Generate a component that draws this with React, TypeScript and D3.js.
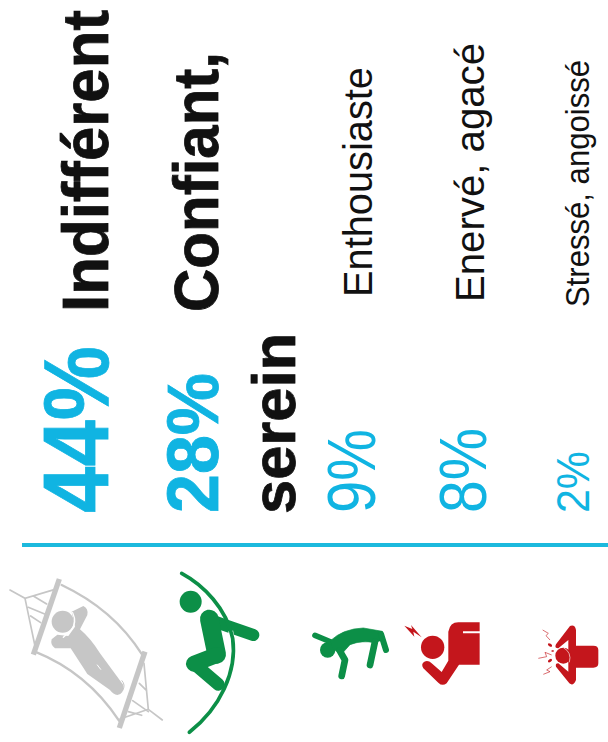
import React from "react";
import * as d3 from "d3";

// Survey results: share of respondents per mood
const moods = ["Indifférent", "Confiant,", "Enthousiaste", "Enervé, agacé", "Stressé, angoissé"];
const moodContinuation = ["", "serein", "", "", ""];
const shares = [44, 28, 9, 8, 2];

const width = 608;
const height = 742;
const FONT = "'Liberation Sans', Arial, sans-serif";
const BLUE = "#10b4e2";
const RULE = "#1cb9dd";
const GREY = "#c6c6c6";
const GREEN = "#0c8f47";
const RED = "#c4161c";

// Typographic settings per row: baselines across the page, run lengths along it
const pctBaseline = [108, 218, 375, 486, 589];
const pctSize = [93, 72, 68, 66, 47];
const pctLength = [167, 140, 84, 85, 62];
const nameBaseline = [108, 218, 372, 484, 589];
const nameSize = [64, 63, 40, 41, 34];
const nameLength = [302, 260, 230, 259, 247];
const nameStart = [312, 312, 297, 302, 307];
const pctStart = 513;

const isBold = d3.scaleThreshold<number, number>().domain([20]).range([400, 700]);

type Rotated = { x: number; y: number; size: number; len: number; fill: string; weight: number; text: string };

function Upright({ x, y, size, len, fill, weight, text }: Rotated) {
  return (
    <text
      transform={`translate(${x},${y}) rotate(-90)`}
      fontFamily={FONT}
      fontSize={size}
      fontWeight={weight}
      fill={fill}
      stroke={weight > 400 ? fill : "none"}
      strokeWidth={weight > 400 ? 0.8 : 0}
      textLength={len}
      lengthAdjust="spacingAndGlyphs"
    >
      {text}
    </text>
  );
}

// Each pictogram is authored on a 3x grid with its own origin on the page
function Glyph({ x, y, children }: { x: number; y: number; children: React.ReactNode }) {
  return <g transform={`translate(${x},${y}) scale(0.3333)`}>{children}</g>;
}

function Hammock() {
  return (
    <g fill="none" stroke={GREY} strokeLinecap="round">
      <path d="M185,45 Q340,118 425,252" strokeWidth={7} />
      <path d="M105,245 Q262,308 357,452" strokeWidth={7} />
      <path d="M178,27 L100,254" strokeWidth={16} strokeLinecap="butt" />
      <path d="M435,245 L358,474" strokeWidth={16} strokeLinecap="butt" />
      <path d="M30,60 L75,85 L165,58 M75,85 L105,228 M100,78 L140,102 M85,112 L134,132 M92,138 L122,158" strokeWidth={5} />
      <path d="M487,450 L445,418 L432,280 M445,418 L360,447 M418,340 L440,362 M398,392 L445,425 M385,425 L425,436" strokeWidth={5} />
      <circle cx={188} cy={155} r={33} fill={GREY} stroke="none" />
      <path
        d="M215,125 L250,108 Q266,115 262,135 L240,178 Q272,205 300,250 L370,345 Q373,372 352,375 Q340,373 330,360 L262,312 Q240,278 212,235 L165,235 Q150,225 155,208 L172,194 L205,198 L225,170 Z"
        fill={GREY}
        stroke="none"
      />
      <path d="M218,128 Q232,158 214,180 L190,202" stroke="#ffffff" strokeWidth={4} fill="none" />
      <path d="M292,285 L302,298" stroke="#ffffff" strokeWidth={3} />
      <path d="M366,332 Q378,345 368,362" strokeWidth={3} />
    </g>
  );
}

function PoleVaulter() {
  const pole = "M35,25 C100,60 170,130 188,220 C202,320 150,430 58,502";
  return (
    <g fill="none" stroke={GREEN} strokeLinecap="round" strokeLinejoin="round">
      <circle cx={62} cy={110} r={33} fill={GREEN} stroke="none" />
      <path d="M120,165 L250,210" strokeWidth={36} />
      <path d="M118,162 L140,268" strokeWidth={56} />
      <path d="M140,270 L72,296" strokeWidth={48} />
      <path d="M72,296 L145,358" strokeWidth={38} />
      <path d="M182,198 C190,235 190,270 186,300" stroke="#ffffff" strokeWidth={15} strokeLinecap="butt" />
      <path d={pole} strokeWidth={11} />
    </g>
  );
}

function Enthusiast() {
  return (
    <g fill="none" stroke={GREEN} strokeLinecap="round" strokeLinejoin="round">
      <circle cx={68} cy={120} r={23} fill={GREEN} stroke="none" />
      <path d="M30,76 L78,96" strokeWidth={17} />
      <path d="M76,92 Q115,56 175,54 L232,64 L226,92 L208,98 Q170,90 135,104 L110,132 L84,118 Z" fill={GREEN} strokeWidth={2} />
      <path d="M228,72 L243,120" strokeWidth={18} />
      <path d="M210,95 L195,165" strokeWidth={20} />
      <path d="M104,122 L120,150 L110,198" strokeWidth={20} />
    </g>
  );
}

function Angry() {
  return (
    <g fill={RED}>
      <circle cx={383} cy={112} r={35} />
      <path d="M430,65 Q435,37 460,37 L524,37 L524,64 L474,64 L474,70 L524,70 L524,164 L462,164 L425,220 Q412,230 400,218 L355,175 Q347,162 358,155 Q370,150 380,160 L410,186 L430,152 Z" />
      <path d="M298,47 L322,57 L318,45 L350,82 L325,65 L328,80 Z" />
    </g>
  );
}

function Stressed() {
  return (
    <g fill={RED}>
      <path d="M120,33 Q135,28 138,45 L138,92 L190,92 Q205,92 205,105 L205,145 Q205,158 190,158 L138,158 L138,195 Q130,215 118,205 L78,155 Q75,145 85,145 L115,170 L115,75 L85,100 Q72,100 78,88 Z" />
      <circle cx={100} cy={122} r={24} />
      <path d="M100,98 Q126,112 118,142" fill="none" stroke="#f2c8c8" strokeWidth={2.5} />
      <path
        d="M38,45 L55,55 L48,62 L60,75 M25,130 L50,125 L45,112 L65,120 M40,178 L60,170 L50,165 L65,155"
        fill="none"
        stroke={RED}
        strokeWidth={2.5}
        opacity={0.75}
      />
      <ellipse cx={60} cy={90} rx={7} ry={4} transform="rotate(30 60 90)" />
      <ellipse cx={68} cy={108} rx={4} ry={3} opacity={0.8} />
      <ellipse cx={60} cy={137} rx={7} ry={4} transform="rotate(-35 60 137)" />
    </g>
  );
}

export default function App() {
  return (
    <svg
      width={width}
      height={height}
      viewBox={`0 0 ${width} ${height}`}
      style={{ position: "absolute", left: 0, top: 0, background: "#ffffff" }}
    >
      {shares.map((v, i) => (
        <g key={moods[i]}>
          <Upright
            x={pctBaseline[i]}
            y={pctStart}
            size={pctSize[i]}
            len={pctLength[i]}
            fill={BLUE}
            weight={isBold(v)}
            text={`${v}%`}
          />
          <Upright
            x={nameBaseline[i]}
            y={nameStart[i]}
            size={nameSize[i]}
            len={nameLength[i]}
            fill="#111111"
            weight={isBold(v)}
            text={moods[i]}
          />
        </g>
      ))}
      {moodContinuation.map((t, i) =>
        t ? (
          <Upright key={t} x={295} y={514} size={62} len={181} fill="#111111" weight={isBold(shares[i])} text={t} />
        ) : null
      )}
      <line x1={22} x2={width} y1={545} y2={545} stroke={RULE} strokeWidth={4} />
      <Glyph x={0} y={570}>
        <Hammock />
      </Glyph>
      <Glyph x={170} y={565}>
        <PoleVaulter />
      </Glyph>
      <Glyph x={305} y={610}>
        <Enthusiast />
        <Angry />
      </Glyph>
      <Glyph x={530} y={615}>
        <Stressed />
      </Glyph>
    </svg>
  );
}
